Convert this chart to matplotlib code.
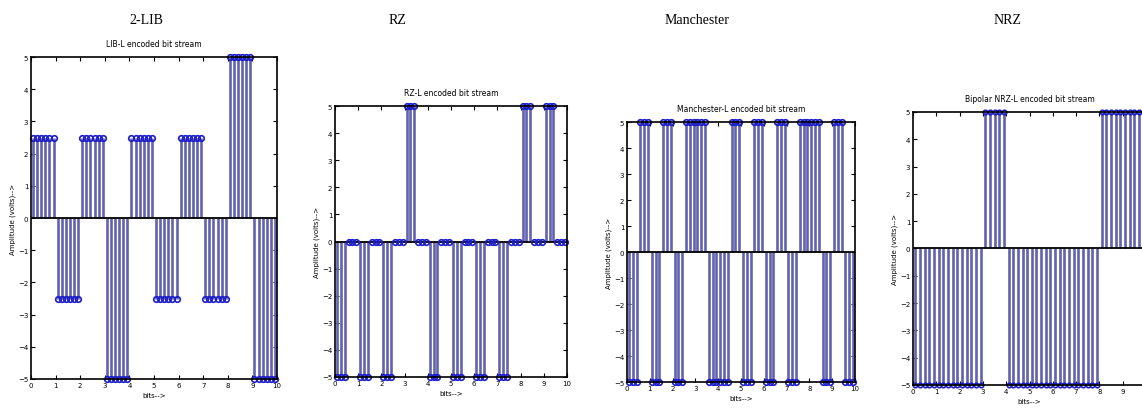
import matplotlib.pyplot as plt
import numpy as np

# per-bit levels (volts)
lib_levels = [2.5, -2.5, 2.5, -5, 2.5, -2.5, 2.5, -2.5, 5, -5]
rz_levels = [-5, -5, -5, 5, -5, -5, -5, -5, 5, 5]
manchester_first = [-5, -5, -5, 5, -5, -5, -5, -5, 5, 5]
manchester_second = [5, 5, 5, -5, 5, 5, 5, 5, -5, -5]
nrz_levels = [-5, -5, -5, 5, -5, -5, -5, -5, 5, 5]

panel_names = ["2-LIB", "RZ", "Manchester", "NRZ"]
inner_titles = [
    "LIB-L encoded bit stream",
    "RZ-L encoded bit stream",
    "Manchester-L encoded bit stream",
    "Bipolar NRZ-L encoded bit stream",
]

W, H = 1142, 410
# axes boxes in pixels: left, top, right, bottom
boxes = [
    (31, 58, 277, 380),
    (335, 107, 567, 378),
    (627, 123, 855, 383),
    (913, 113, 1146, 386),
]
name_x = [146, 397, 697, 1008]

STEM = "#6262ae"
MARK = "#1c1cc8"


def sample(first, second, n=6):
    """Spread per-bit half levels over n samples per bit."""
    t, y = [], []
    for b, (a, c) in enumerate(zip(first, second)):
        for k in range(n):
            t.append(b + (k + 0.5) / n)
            y.append(a if k < n // 2 else c)
    return np.array(t), np.array(y)


def stem_panel(ax, t, y, ms=4.0):
    markers, stems, base = ax.stem(t, y, basefmt=" ")
    plt.setp(stems, color=STEM, linewidth=1.9, clip_on=False)
    plt.setp(markers, color=MARK, markerfacecolor="none", markersize=ms,
             markeredgewidth=1.2, clip_on=False, zorder=4)
    ax.axhline(0, color="black", lw=1.3, zorder=3)


fig = plt.figure(figsize=(W / 100, H / 100), dpi=100)

signals = [
    sample(lib_levels, lib_levels),
    sample(rz_levels, [0] * 10),
    sample(manchester_first, manchester_second),
    sample(nrz_levels, nrz_levels, n=5),
]

for i, (l, t, r, b) in enumerate(boxes):
    ax = fig.add_axes([l / W, 1 - b / H, (r - l) / W, (b - t) / H])
    st, sy = signals[i]
    stem_panel(ax, st, sy, ms=3.2 if i == 3 else 4.0)
    ax.set_xlim(0, 10)
    ax.set_ylim(-5, 5)
    ax.set_xticks(range(11))
    ax.set_yticks(range(-5, 6))
    ax.tick_params(direction="in", top=True, right=True, labelsize=5,
                   length=3, width=0.8, pad=2)
    for s in ax.spines.values():
        s.set_linewidth(1.2)
        s.set_zorder(5)
    ax.set_title(inner_titles[i], fontsize=5.5, pad=8)
    ax.set_xlabel("bits-->", fontsize=5, labelpad=3)
    ax.set_ylabel("Amplitude (volts)-->", fontsize=5, labelpad=1)
    fig.text(name_x[i] / W, 1 - 20 / H, panel_names[i], ha="center",
             va="center", fontsize=10, family="Liberation Serif")

fig.savefig("out.png", dpi=100)
